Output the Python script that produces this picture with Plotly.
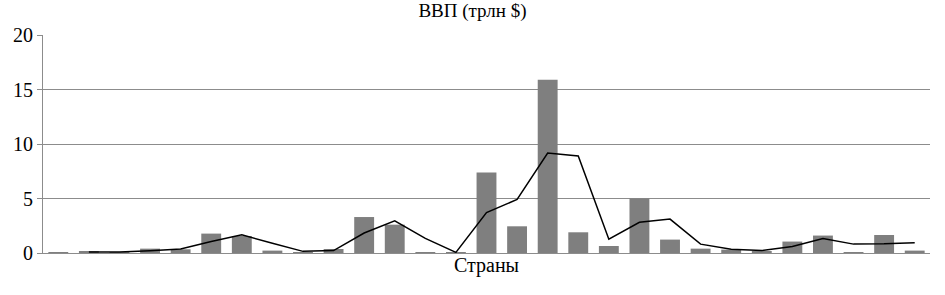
import plotly.graph_objects as go
import pandas as pd

categories = list(range(1, 30))
gdp = [0.02, 0.18, 0.02, 0.4, 0.34, 1.78, 1.56, 0.22, 0.08, 0.37,
       3.3, 2.6, 0.08, 0.04, 7.38, 2.45, 15.9, 1.9, 0.64, 4.99,
       1.23, 0.4, 0.31, 0.15, 1.05, 1.6, 0.03, 1.65, 0.22]
y_ticks = [0, 5, 10, 15, 20]

s = pd.Series(gdp, index=categories)
ma = s.rolling(2).mean().dropna()

font = "Times New Roman, Liberation Serif, DejaVu Serif, serif"
fig = go.Figure()
fig.add_trace(go.Bar(x=categories, y=gdp, marker=dict(color="#7f7f7f", line=dict(width=0)),
                     showlegend=False))
fig.add_trace(go.Scatter(x=list(ma.index), y=list(ma.values), mode="lines",
                         line=dict(color="black", width=1.5), showlegend=False))
fig.update_layout(
    width=945, height=295,
    margin=dict(l=43, r=15, t=35, b=42),
    paper_bgcolor="white", plot_bgcolor="white",
    bargap=0.35,
    title=dict(text="ВВП (трлн $)", x=0.5, xanchor="center", y=1 - 10 / 295, yanchor="middle",
               font=dict(family=font, size=19, color="black")),
    font=dict(family=font, color="black"),
    modebar=dict(bgcolor="rgba(0,0,0,0)", color="rgba(0,0,0,0)", activecolor="rgba(0,0,0,0)"),
)
fig.update_xaxes(type="linear", range=[0.5, 29.5], showticklabels=False, ticks="",
                 showgrid=False, showline=True, linecolor="#8c8c8c", linewidth=1,
                 title=dict(text="Страны", font=dict(family=font, size=20, color="black"), standoff=4),
                 zeroline=False)
fig.update_yaxes(range=[0, 20], tickvals=y_ticks, showgrid=True, gridcolor="#8c8c8c", gridwidth=1,
                 showline=True, linecolor="#8c8c8c", linewidth=1, ticks="outside", ticklen=5,
                 tickcolor="#8c8c8c", tickfont=dict(family=font, size=20, color="black"),
                 zeroline=False)
fig.write_html(
    "out.html",
    post_script=(
        "document.body.style.margin='0';"
        "document.querySelectorAll('.modebar-container').forEach(function(e){e.style.display='none';});"
    ),
)
